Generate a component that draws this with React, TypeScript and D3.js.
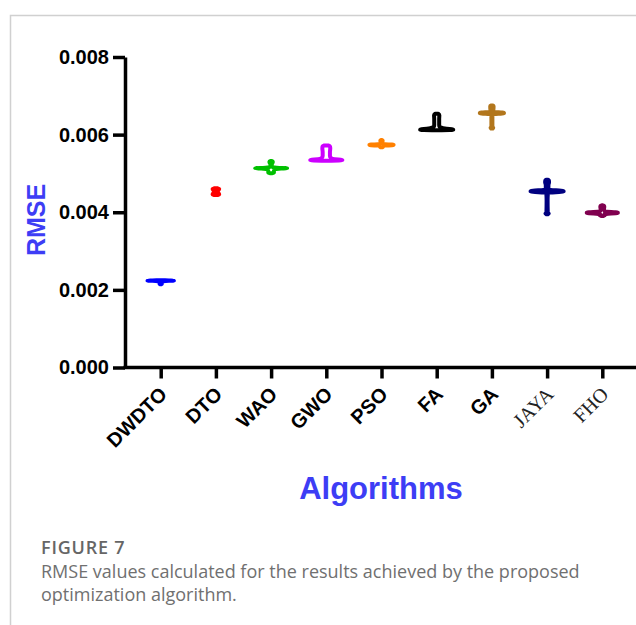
import React, { useEffect, useRef } from 'react';
import * as d3 from 'd3';

const algorithms = ['DWDTO', 'DTO', 'WAO', 'GWO', 'PSO', 'FA', 'GA', 'JAYA', 'FHO'];
const colors = ['#0000FF', '#FF0000', '#00C000', '#CC00FF', '#FF8000', '#000000', '#B2761C', '#000080', '#80004F'];
const serifLabels = ['JAYA', 'FHO'];
const yTicks = [0, 0.002, 0.004, 0.006, 0.008];

// violin outlines: [RMSE, relative density]
const dwdto = [[0.002142, 0.03], [0.002150, 0.07], [0.002175, 0.05], [0.002215, 0.06], [0.002232, 0.5], [0.002237, 0.8], [0.002242, 0.5], [0.002250, 0.02]];
const dto = [[0.004446, 0.12], [0.004455, 0.2], [0.004490, 0.16], [0.004531, 0.06], [0.004570, 0.16], [0.004605, 0.2], [0.004616, 0.12]];
const wao = [[0.005005, 0.05], [0.005020, 0.17], [0.005060, 0.17], [0.005100, 0.22], [0.005125, 0.6], [0.005134, 0.97], [0.005143, 0.5], [0.005160, 0.1], [0.005200, 0.04], [0.005250, 0.05], [0.005290, 0.1], [0.005310, 0.1], [0.005322, 0.03]];
const gwo = [[0.005325, 0.3], [0.005338, 0.97], [0.005350, 0.97], [0.005365, 0.5], [0.005400, 0.28], [0.005450, 0.22], [0.005550, 0.22], [0.005650, 0.24], [0.005700, 0.22], [0.005722, 0.12]];
const pso = [[0.005675, 0.05], [0.005690, 0.1], [0.005715, 0.15], [0.005730, 0.73], [0.005740, 0.73], [0.005755, 0.12], [0.005800, 0.05], [0.005850, 0.07], [0.005863, 0.03]];
const fa = [[0.006113, 0.3], [0.006122, 1.0], [0.006135, 1.0], [0.006150, 0.6], [0.006170, 0.35], [0.006200, 0.18], [0.006250, 0.15], [0.006400, 0.15], [0.006500, 0.16], [0.006541, 0.08]];
const ga = [[0.006157, 0.05], [0.006175, 0.08], [0.006200, 0.03], [0.006400, 0.03], [0.006520, 0.04], [0.006552, 0.73], [0.006562, 0.73], [0.006590, 0.08], [0.006700, 0.1], [0.006740, 0.1], [0.006753, 0.04]];
const jaya = [[0.003948, 0.05], [0.003965, 0.1], [0.003990, 0.04], [0.004300, 0.03], [0.004500, 0.05], [0.004535, 1.0], [0.004548, 1.0], [0.004580, 0.08], [0.004700, 0.08], [0.004780, 0.12], [0.004830, 0.1], [0.004840, 0.04]];
const fho = [[0.003905, 0.06], [0.003920, 0.16], [0.003950, 0.12], [0.003980, 0.94], [0.003995, 0.94], [0.004020, 0.15], [0.004080, 0.1], [0.004140, 0.12], [0.004170, 0.1], [0.004178, 0.04]];
const profiles = [dwdto, dto, wao, gwo, pso, fa, ga, jaya, fho];

const captionTitle = 'FIGURE 7';
const captionLines = [
  'RMSE values calculated for the results achieved by the proposed',
  'optimization algorithm.',
];

const sans = '"Liberation Sans", Arial, sans-serif';

const ViolinChart = () => {
  const svgRef = useRef<SVGSVGElement>(null);

  useEffect(() => {
    const svg = d3.select(svgRef.current);
    svg.selectAll('*').remove();

    const x = d3.scalePoint<string>().domain(algorithms).range([160.7, 602.3]);
    const y = d3.scaleLinear().domain([0, 0.008]).range([367.5, 57]);
    const w = d3.scaleLinear().domain([0, 1]).range([0, 16.5]);

    // card frame
    svg.append('path')
      .attr('d', 'M10.5,625V15.5H636')
      .attr('fill', 'none')
      .attr('stroke', '#d0d0d0')
      .attr('stroke-width', 1.5);

    // violins
    profiles.forEach((p, i) => {
      const cx = x(algorithms[i]) as number;
      const area = d3.area<number[]>()
        .curve(d3.curveMonotoneY)
        .y(d => y(d[0]))
        .x0(d => cx - w(d[1]))
        .x1(d => cx + w(d[1]));
      svg.append('path')
        .attr('d', area(p))
        .attr('fill', 'none')
        .attr('stroke', colors[i])
        .attr('stroke-width', 4)
        .attr('stroke-linejoin', 'round');
    });

    // y axis
    const yAxis = svg.append('g')
      .attr('transform', 'translate(125,0)')
      .call(d3.axisLeft(y).tickValues(yTicks).tickFormat(d3.format('.3f')).tickSize(12).tickSizeOuter(0).tickPadding(4));
    yAxis.select('.domain').attr('stroke', '#000').attr('stroke-width', 3.5);
    yAxis.selectAll('line').attr('stroke', '#000').attr('stroke-width', 3.5);
    yAxis.selectAll('text')
      .attr('font-family', sans)
      .attr('font-weight', 'bold')
      .attr('font-size', 20)
      .attr('fill', '#000');

    // x axis
    svg.append('line')
      .attr('x1', 123.5).attr('x2', 636)
      .attr('y1', 367.5).attr('y2', 367.5)
      .attr('stroke', '#000')
      .attr('stroke-width', 3.5);
    const xAxis = svg.append('g')
      .attr('transform', 'translate(0,367.5)')
      .call(d3.axisBottom(x).tickSize(11).tickSizeOuter(0));
    xAxis.select('.domain').remove();
    xAxis.selectAll('line').attr('stroke', '#000').attr('stroke-width', 3.5);
    xAxis.selectAll<SVGTextElement, string>('text')
      .attr('y', 0)
      .attr('dy', 0)
      .attr('transform', 'translate(7,28) rotate(-45)')
      .attr('text-anchor', 'end')
      .attr('fill', d => (serifLabels.includes(d) ? '#222' : '#000'))
      .attr('font-family', d => (serifLabels.includes(d) ? '"Liberation Serif", "Times New Roman", serif' : sans))
      .attr('font-weight', d => (serifLabels.includes(d) ? 'normal' : 'bold'))
      .attr('font-size', 20);

    // axis titles
    svg.append('text')
      .attr('transform', 'translate(45,220) rotate(-90)')
      .attr('text-anchor', 'middle')
      .attr('font-family', sans)
      .attr('font-weight', 'bold')
      .attr('font-size', 25)
      .attr('fill', '#3D3DF5')
      .text('RMSE');
    svg.append('text')
      .attr('x', 381)
      .attr('y', 499)
      .attr('text-anchor', 'middle')
      .attr('font-family', sans)
      .attr('font-weight', 'bold')
      .attr('font-size', 31)
      .attr('fill', '#3D3DF5')
      .text('Algorithms');

    // caption
    svg.append('text')
      .attr('x', 41)
      .attr('y', 554)
      .attr('font-family', '"Open Sans", sans-serif')
      .attr('font-weight', 600)
      .attr('font-size', 18)
      .attr('letter-spacing', 0.8)
      .attr('fill', '#666')
      .text(captionTitle);
    captionLines.forEach((line, i) => {
      svg.append('text')
        .attr('x', 41)
        .attr('y', 578 + i * 23)
        .attr('font-family', '"Open Sans", sans-serif')
        .attr('font-size', 18)
        .attr('fill', '#707070')
        .text(line);
    });
  }, []);

  return (
    <svg
      ref={svgRef}
      width={636}
      height={625}
      style={{ position: 'absolute', left: 0, top: 0, background: '#fff' }}
    />
  );
};

export default function App() {
  return <ViolinChart />;
}
